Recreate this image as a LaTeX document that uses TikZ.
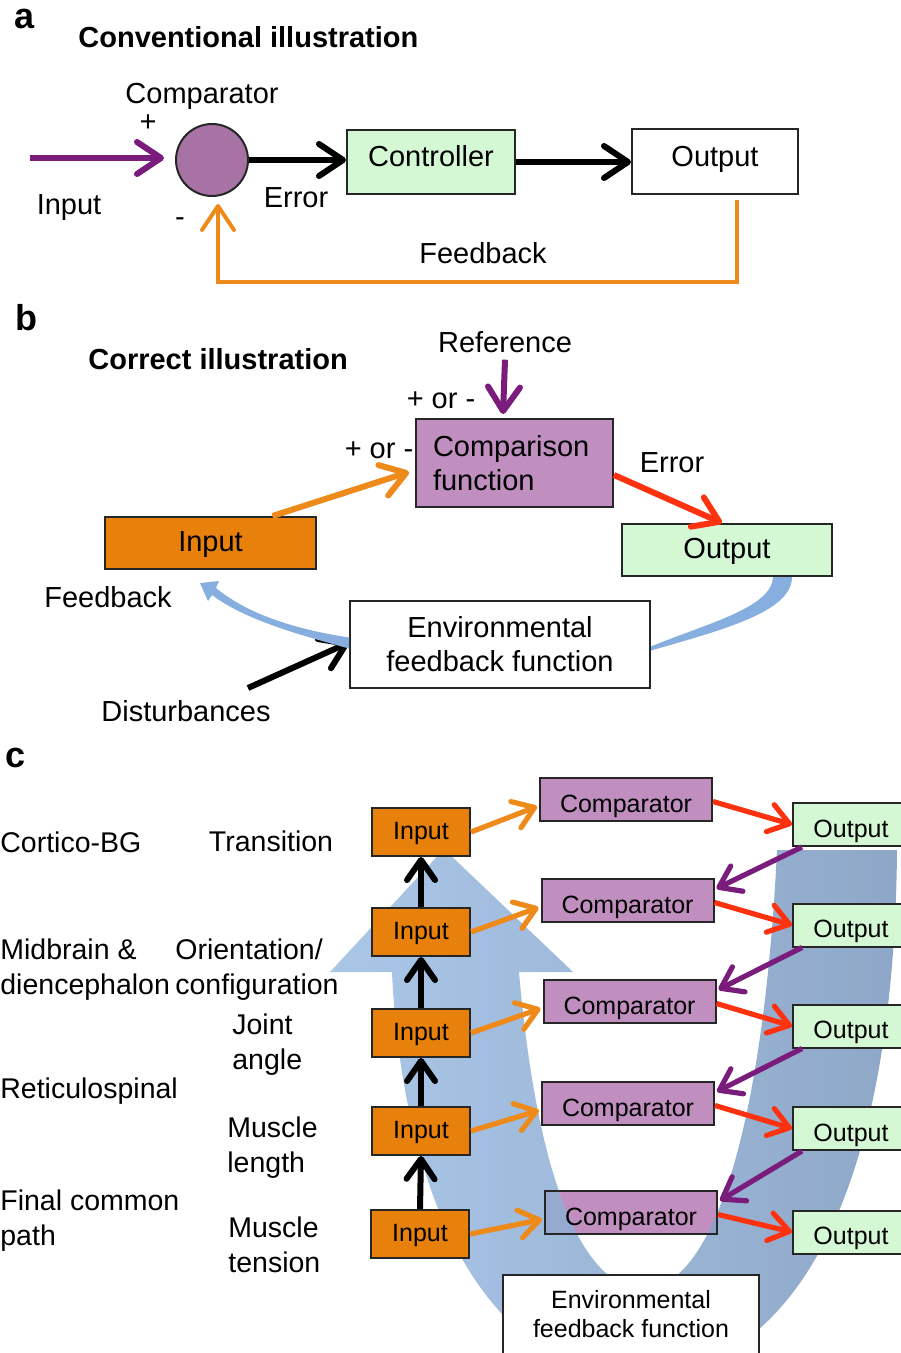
\documentclass[tikz,border=0pt]{standalone}
\usepackage{fontspec}
\setmainfont{Liberation Sans}
\usetikzlibrary{arrows.meta,positioning,calc}

\definecolor{plum}{HTML}{7A1C7C}
\definecolor{circfill}{HTML}{A673A4}
\definecolor{lilac}{HTML}{C08FC0}
\definecolor{mint}{HTML}{D4F7D4}
\definecolor{inorange}{HTML}{E8800C}
\definecolor{fborange}{HTML}{EE8A1A}
\definecolor{errred}{HTML}{FF3210}
\definecolor{swoosh}{HTML}{86AEDF}
\definecolor{bandlight}{HTML}{9CBDE4}
\definecolor{banddark}{HTML}{7A98BE}

\begin{document}
\begin{tikzpicture}[
  x=0.5pt, y=-0.5pt,
  font=\fontsize{14.5}{17}\selectfont,
  >={Straight Barb[length=12pt,width=16pt,round]},
  line/.style={->, line width=3pt},
  arrc/.style={->, line width=2.6pt, >={Straight Barb[length=10pt,width=14pt,round]}},
  box/.style={rectangle, draw=black!85, line width=1pt, inner sep=0pt},
  boxa/.style={box, text height=0.72em, text depth=0.22em},
  boxb/.style={box, text height=0.82em, text depth=0pt},
  tag/.style={font=\fontsize{18}{20}\selectfont\bfseries},
  title/.style={anchor=west, inner sep=0pt, font=\fontsize{14.5}{17}\selectfont\bfseries},
  small/.style={font=\fontsize{12.5}{14.5}\selectfont},
  side/.style={anchor=west, inner sep=0pt, align=left, font=\fontsize{14.25}{17.5}\selectfont},
  inbox/.style={box, small, fill=inorange, minimum width=49pt, minimum height=24pt, text height=0.72em, text depth=0pt},
  cmpbox/.style={box, small, fill=lilac, minimum width=86pt, minimum height=21.5pt, text height=1.25em, text depth=0pt},
  outbox/.style={box, small, fill=mint, minimum width=58pt, minimum height=21.5pt, text height=1.25em, text depth=0pt}
]
\useasboundingbox (0,0) rectangle (900,1353);

% ---------- (a) conventional ----------
\node[tag] (tagA) at (25,19) {a};
\node[title] (titleA) at (78,37) {Conventional illustration};

\node[circle, draw=black!85, line width=1pt, fill=circfill, minimum size=36pt, inner sep=0pt] (comp) at (212,160) {};
\node (compLbl) at (202,96) {Comparator};
\node (plusA) at (148,123) {+};
\node (minusA) at (180,222) {-};
\node[boxa, fill=mint, minimum width=84pt, minimum height=32pt] (ctrl) at (431,162) {Controller};
\node[boxa, fill=white, minimum width=83pt, minimum height=32.5pt] (outA) at (715,162) {Output};
\node (inLblA) at (69,208) {Input};
\node (errLblA) at (296,198) {Error};
\node (fbLblA) at (483,253) {Feedback};
\coordinate (inA) at (30,158);

% Arrows
\draw[line, plum, shorten >=5.5pt] (inA) -- (inA -| comp.west);
\draw[line] (comp.east) -- (comp.east -| ctrl.west);
\draw[line] (ctrl.east) -- (outA.west);
\draw[line, fborange, line width=2pt] ([xshift=11pt,yshift=-2.5pt]outA.south) |- ([xshift=3pt,yshift=-42.5pt]comp.south) -- ([xshift=3pt,yshift=-3.5pt]comp.south);

% ---------- (b) correct ----------
\node[tag] (tagB) at (26,318) {b};
\node[title] (titleB) at (88,359) {Correct illustration};

\node[box, fill=lilac, text width=81.5pt, inner xsep=8.5pt, minimum height=44pt, align=left] (cmpB) at (514.5,463) {Comparison\\function};
\node (refLbl) at (505,342) {Reference};
\node (pmTop) at (441,400) {+ or -};
\node (pmLeft) at (379,450) {+ or -};
\node[boxb, fill=inorange, minimum width=105.5pt, minimum height=26pt] (inB) at (210.5,543) {Input};
\node[boxb, fill=mint, minimum width=105pt, minimum height=26pt] (outB) at (727,550) {Output};
\node (errLblB) at (672,463) {Error};
\node[box, fill=white, minimum width=150pt, minimum height=43.5pt, align=center] (envB) at (500,644.5) {Environmental\\feedback function};
\node (fbLblB) at (108,597) {Feedback};
\node (distLbl) at (186,711) {Disturbances};
\coordinate (distStart) at (248,688);

% Arrows
\draw[line, plum] (refLbl.south) -- ([xshift=-5.75pt,yshift=2pt]cmpB.north);
\draw[line, fborange] ([xshift=31pt]inB.north) -- ([xshift=-3pt,yshift=-4.5pt]cmpB.west);
\draw[line, errred] ([yshift=-6pt]cmpB.east) -- ([xshift=-2.5pt]outB.north);
\draw[line] (distStart) -- ([yshift=1pt]envB.west);

% feedback swooshes
\fill[swoosh] (envB.west) ++(0,-7) .. controls (300,630) and (250,616) .. (216,588)
  -- (219,581) -- (200,583) -- (208,601) -- (212,595)
  .. controls (245,620) and (300,635) .. ([yshift=-2pt]envB.west) -- cycle;
\fill[swoosh] ([xshift=32.5pt]outB.south) .. controls (792,612) and (722,630) .. ([yshift=-3pt]envB.east)
  -- ([yshift=-1pt]envB.east) .. controls (705,624) and (772,608) .. ([xshift=23pt]outB.south) -- cycle;

% ---------- (c) hierarchy ----------
\node[tag] (tagC) at (16,758) {c};

\node[cmpbox, draw=none] (cmpC5fill) at (631,1212.5) {};

% control band
\shade[left color=bandlight, right color=banddark, fill opacity=0.85]
  (444,849) -- (573,972) -- (519,972) .. controls (530,1100) and (560,1280) .. (641,1290)
  .. controls (720,1290) and (765,1100) .. (777,850) -- (897,850)
  .. controls (895,1100) and (840,1360) .. (641,1380)
  .. controls (460,1370) and (400,1150) .. (392,972) -- (330,972) -- cycle;

% side labels
\node[side] (lvl1) at (0,842) {Cortico-BG};
\node[side] (lvl2) at (0,970) {Midbrain \&\\diencephalon};
\node[side] (lvl3) at (0,1091) {Reticulospinal};
\node[side] (lvl4) at (0,1221) {Final common\\path};
\node[side, anchor=center] (var1) at (271,841) {Transition};
\node[side] (var2) at (175,970) {Orientation/\\configuration};
\node[side] (var3) at (232,1045) {Joint\\angle};
\node[side] (var4) at (227,1148) {Muscle\\length};
\node[side] (var5) at (228,1245) {Muscle\\tension};

% Nodes
\node[inbox] (inC1) at (421,832) {Input};
\node[inbox] (inC2) at (421,932) {Input};
\node[inbox] (inC3) at (421,1033) {Input};
\node[inbox] (inC4) at (421,1131) {Input};
\node[inbox] (inC5) at (420,1234) {Input};

\node[cmpbox] (cmpC1) at (626,799.5) {Comparator};
\node[cmpbox] (cmpC2) at (627.5,900.5) {Comparator};
\node[cmpbox] (cmpC3) at (629.5,1001.5) {Comparator};
\node[cmpbox] (cmpC4) at (628,1103.5) {Comparator};
\node[cmpbox, fill=none] (cmpC5) at (631,1212.5) {Comparator};

\node[outbox] (outC1) at (851,824.5) {Output};
\node[outbox] (outC2) at (851,925) {Output};
\node[outbox] (outC3) at (851,1026) {Output};
\node[outbox] (outC4) at (851,1128.5) {Output};
\node[outbox] (outC5) at (851,1232) {Output};

\node[box, small, fill=white, minimum width=128pt, minimum height=39.5pt, align=center, font=\fontsize{12.5}{14.5}\selectfont] (envC) at (631,1314.5) {Environmental\\feedback function};

% Arrows (inputs upward)
\draw[arrc, line width=3pt] (inC2.north) -- (inC1.south);
\draw[arrc, line width=3pt] (inC3.north) -- (inC2.south);
\draw[arrc, line width=3pt] (inC4.north) -- (inC3.south);
\draw[arrc, line width=3pt] (inC5.north) -- (inC4.south);

% input -> comparator
\draw[arrc, fborange] (inC1.east) -- ([xshift=-1pt,yshift=-3.5pt]cmpC1.west);
\draw[arrc, fborange] (inC2.east) -- ([xshift=-1pt,yshift=-3.5pt]cmpC2.west);
\draw[arrc, fborange] (inC3.east) -- ([xshift=-1pt,yshift=-3.5pt]cmpC3.west);
\draw[arrc, fborange] (inC4.east) -- ([xshift=-1pt,yshift=-3.5pt]cmpC4.west);
\draw[arrc, fborange] (inC5.east) -- ([xshift=-1pt,yshift=-3.5pt]cmpC5.west);

% comparator -> output
\draw[arrc, errred] ([yshift=-1pt]cmpC1.east) -- (outC1.west);
\draw[arrc, errred] ([yshift=-1pt]cmpC2.east) -- (outC2.west);
\draw[arrc, errred] ([yshift=-1pt]cmpC3.east) -- (outC3.west);
\draw[arrc, errred] ([yshift=-1pt]cmpC4.east) -- (outC4.west);
\draw[arrc, errred] ([yshift=-1pt]cmpC5.east) -- (outC5.west);

% output -> next comparator
\draw[arrc, plum] ([xshift=5pt]outC1.south west) -- ([xshift=1pt,yshift=6pt]cmpC2.east);
\draw[arrc, plum] ([xshift=5pt]outC2.south west) -- ([xshift=1pt,yshift=6pt]cmpC3.east);
\draw[arrc, plum] ([xshift=5pt]outC3.south west) -- ([xshift=1pt,yshift=6pt]cmpC4.east);
\draw[arrc, plum] ([xshift=5pt]outC4.south west) -- ([xshift=1pt,yshift=6pt]cmpC5.east);

\end{tikzpicture}
\end{document}
